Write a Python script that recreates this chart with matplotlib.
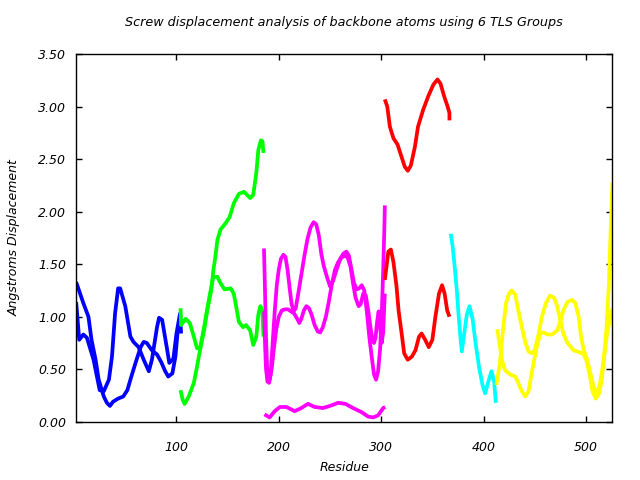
import numpy as np
import matplotlib.pyplot as plt

# screw displacement per TLS group, two/three curves per group (residue, value)
blue_res_a = [2, 9, 14, 17, 21, 24, 29, 32, 35, 38, 43, 48, 52, 55, 60, 65, 68, 71, 76, 81, 85, 89, 92, 96, 99, 101, 104]
blue_val_a = [1.33, 1.13, 1.0, 0.78, 0.59, 0.40, 0.24, 0.18, 0.15, 0.19, 0.22, 0.24, 0.30, 0.40, 0.56, 0.71, 0.76, 0.75,
              0.68, 0.64, 0.57, 0.48, 0.43, 0.46, 0.62, 0.84, 1.02]
blue_res_b = [2, 2.5, 5, 9, 12.5, 19, 25, 29, 34, 37, 40, 43, 45, 50, 55, 58, 63, 68, 73, 76, 81, 83, 86, 91, 93, 97,
              100, 103.5, 104.5]
blue_val_b = [1.14, 1.08, 0.78, 0.83, 0.80, 0.59, 0.30, 0.29, 0.40, 0.62, 1.03, 1.27, 1.27, 1.10, 0.81, 0.76, 0.71,
              0.59, 0.48, 0.59, 0.90, 0.99, 0.97, 0.68, 0.56, 0.60, 0.84, 1.03, 0.84]

green_res_a = [104, 106, 108, 112, 117, 120, 123, 127, 130, 134, 136, 138, 140, 143, 148, 152, 156, 161, 166, 169, 172,
               175, 178, 180, 182.5, 184, 185]
green_val_a = [0.30, 0.21, 0.17, 0.24, 0.37, 0.52, 0.68, 0.87, 1.06, 1.25, 1.44, 1.57, 1.73, 1.83, 1.89, 1.95, 2.08,
               2.17, 2.19, 2.16, 2.13, 2.16, 2.37, 2.59, 2.68, 2.67, 2.56]
green_res_b = [104, 104.5, 109, 113, 117, 120, 123, 127, 132, 136, 140, 143, 147, 153, 156, 159, 161, 165, 168, 172,
               175, 178, 180, 182, 184, 185]
green_val_b = [1.08, 0.92, 0.98, 0.94, 0.81, 0.70, 0.70, 0.90, 1.18, 1.38, 1.38, 1.32, 1.26, 1.27, 1.22, 1.06, 0.95,
               0.90, 0.92, 0.87, 0.73, 0.81, 1.02, 1.10, 1.05, 0.81]

magenta_res_a = [186, 191, 196, 201, 207.5, 215.5, 222, 228.5, 235, 243, 250, 258, 265, 272.5, 281, 287, 292, 297, 302,
                 304]
magenta_val_a = [0.07, 0.04, 0.10, 0.14, 0.14, 0.10, 0.13, 0.17, 0.14, 0.13, 0.15, 0.18, 0.17, 0.13, 0.09, 0.05, 0.04,
                 0.06, 0.13, 0.14]
magenta_res_b = [185.5, 186.5, 187.5, 189, 190.5, 192, 194, 196, 198, 200, 202, 204.5, 206.5, 208.5, 210.5, 212.5,
                 214.5, 216.5, 219, 222, 225, 228, 231, 234, 236.5, 239, 241.5, 244, 247, 250, 253, 256.5, 260, 263,
                 266, 268.5, 271, 273.5, 276, 278.5, 281, 283.5, 286, 288.5, 291, 293, 295, 297, 299, 300.5, 302, 303,
                 303.6]
magenta_val_b = [1.65, 1.25, 0.80, 0.40, 0.37, 0.45, 0.75, 1.05, 1.30, 1.45, 1.55, 1.59, 1.57, 1.45, 1.28, 1.12, 1.05,
                 1.08, 1.22, 1.40, 1.58, 1.74, 1.85, 1.90, 1.88, 1.78, 1.60, 1.48, 1.38, 1.29, 1.34, 1.45, 1.55, 1.60,
                 1.62, 1.58, 1.45, 1.32, 1.26, 1.27, 1.30, 1.25, 1.05, 0.80, 0.60, 0.45, 0.40, 0.48, 0.70, 1.00, 1.45,
                 1.80, 2.06]
magenta_res_c = [185.7, 186.5, 187.5, 189, 191, 193, 195, 197.5, 200, 203, 206, 209, 212, 215, 218, 220, 222, 224.5,
                 227, 229.5, 232, 235, 238, 240.5, 243, 246, 249, 252, 255, 258, 261, 264, 267, 270, 272.5, 275, 278,
                 280, 282.5, 285, 287.5, 289.5, 291.5, 293, 294.5, 296, 297.5, 299, 300.5, 302, 303, 303.6]
magenta_val_c = [1.05, 0.75, 0.50, 0.38, 0.40, 0.50, 0.68, 0.88, 1.00, 1.06, 1.07, 1.07, 1.05, 1.03, 0.98, 0.94, 0.98,
                 1.06, 1.10, 1.08, 1.02, 0.92, 0.86, 0.85, 0.90, 1.00, 1.15, 1.32, 1.45, 1.52, 1.56, 1.58, 1.57, 1.48,
                 1.32, 1.18, 1.10, 1.12, 1.22, 1.20, 1.05, 0.90, 0.78, 0.75, 0.80, 0.95, 1.05, 0.90, 0.75, 0.85, 1.10,
                 1.22]

red_res_a = [303.6, 306, 308.5, 312, 316, 320, 323, 326, 329, 333, 336, 341, 346, 351, 355, 358, 361.5, 365, 366.7,
             366.7]
red_val_a = [3.07, 3.00, 2.81, 2.70, 2.64, 2.52, 2.43, 2.39, 2.44, 2.62, 2.81, 2.97, 3.10, 3.21, 3.26, 3.22, 3.10,
             3.00, 2.94, 2.87]
red_res_b = [303.6, 307, 309.5, 312, 315, 317, 320, 322.5, 326, 330, 333.5, 337, 339.5, 343, 346.5, 350, 353, 356.5,
             359.5, 362, 364.5, 366.7]
red_val_b = [1.35, 1.62, 1.64, 1.52, 1.29, 1.06, 0.84, 0.65, 0.59, 0.62, 0.68, 0.81, 0.84, 0.78, 0.71, 0.78, 1.00,
             1.22, 1.30, 1.22, 1.06, 1.00]

cyan_res = [368, 369.7, 372, 374, 375.6, 377.2, 378.8, 381, 383.7, 386.3, 389.3, 392.5, 395.8, 399, 401.6, 404.6, 407.8,
            410.4, 412]
cyan_val = [1.79, 1.68, 1.46, 1.24, 1.02, 0.83, 0.67, 0.83, 1.02, 1.10, 0.98, 0.73, 0.51, 0.35, 0.27, 0.38, 0.48,
            0.38, 0.18]

yellow_res_a = [413.5, 415.5, 418, 421, 426, 431, 434, 437.5, 440.7, 444, 447, 452, 455.4, 458.7, 462.6, 467, 472, 475,
                478, 482, 486.5, 489.7, 493, 495.3, 498, 501, 504.5, 507.5, 511, 514, 517.5, 520.7, 524, 526]
yellow_val_a = [0.88, 0.75, 0.59, 0.49, 0.45, 0.43, 0.37, 0.29, 0.24, 0.29, 0.46, 0.71, 0.84, 0.85, 0.83, 0.83, 0.87,
                0.95, 1.06, 1.14, 1.16, 1.13, 1.00, 0.81, 0.68, 0.60, 0.46, 0.33, 0.27, 0.37, 0.59, 0.84, 1.00, 1.08]
yellow_res_b = [412.6, 416, 419, 422, 425, 427.5, 431, 434, 437.5, 441, 444, 447, 450, 454, 457, 461, 465, 469, 472,
                475.6, 478, 482, 488, 494, 498, 501, 504, 506.5, 509.7, 513, 515.5, 517.5, 520, 522.4, 524, 525.4, 526]
yellow_val_b = [0.35, 0.56, 0.87, 1.13, 1.22, 1.25, 1.21, 1.06, 0.90, 0.75, 0.67, 0.65, 0.68, 0.84, 1.00, 1.13, 1.20,
                1.18, 1.10, 0.94, 0.84, 0.75, 0.68, 0.66, 0.64, 0.57, 0.43, 0.29, 0.22, 0.27, 0.40, 0.59, 0.87, 1.29,
                1.76, 2.15, 2.28]

groups = [
    ('#0000ff', [(blue_res_a, blue_val_a), (blue_res_b, blue_val_b)]),
    ('#00ff00', [(green_res_a, green_val_a), (green_res_b, green_val_b)]),
    ('#ff00ff', [(magenta_res_a, magenta_val_a), (magenta_res_b, magenta_val_b), (magenta_res_c, magenta_val_c)]),
    ('#ff0000', [(red_res_a, red_val_a), (red_res_b, red_val_b)]),
    ('#00ffff', [(cyan_res, cyan_val)]),
    ('#ffff00', [(yellow_res_a, yellow_val_a), (yellow_res_b, yellow_val_b)]),
]

fig = plt.figure(figsize=(6.4, 4.8), dpi=100)
ax = fig.add_axes([0.119, 0.1215, 0.838, 0.7655])

for col, curves in groups:
    for rx, ry in curves:
        ax.plot(rx, ry, '-', color=col, lw=2.7, solid_joinstyle='round', solid_capstyle='butt')

ax.set_xlim(2, 526)
ax.set_ylim(0, 3.5)
ax.set_xticks([100, 200, 300, 400, 500])
ax.set_yticks(np.arange(0, 3.51, 0.5))
ax.set_yticklabels(['%.2f' % v for v in np.arange(0, 3.51, 0.5)])

fs = 9
for lab in ax.get_xticklabels() + ax.get_yticklabels():
    lab.set_fontstyle('italic')
    lab.set_fontsize(fs)
ax.tick_params(direction='in', length=4.5, width=1, top=True, right=True)
ax.tick_params(axis='x', pad=14)
ax.tick_params(axis='y', pad=7)
for s in ax.spines.values():
    s.set_linewidth(1)

ax.set_title("Screw displacement analysis of backbone atoms using 6 TLS Groups", fontsize=9.2, style='italic', pad=20)
ax.set_xlabel("Residue", fontsize=fs, style='italic', labelpad=5)
ax.set_ylabel("Angstroms Displacement", fontsize=fs, style='italic', labelpad=13)

fig.savefig('out.png', dpi=100)
